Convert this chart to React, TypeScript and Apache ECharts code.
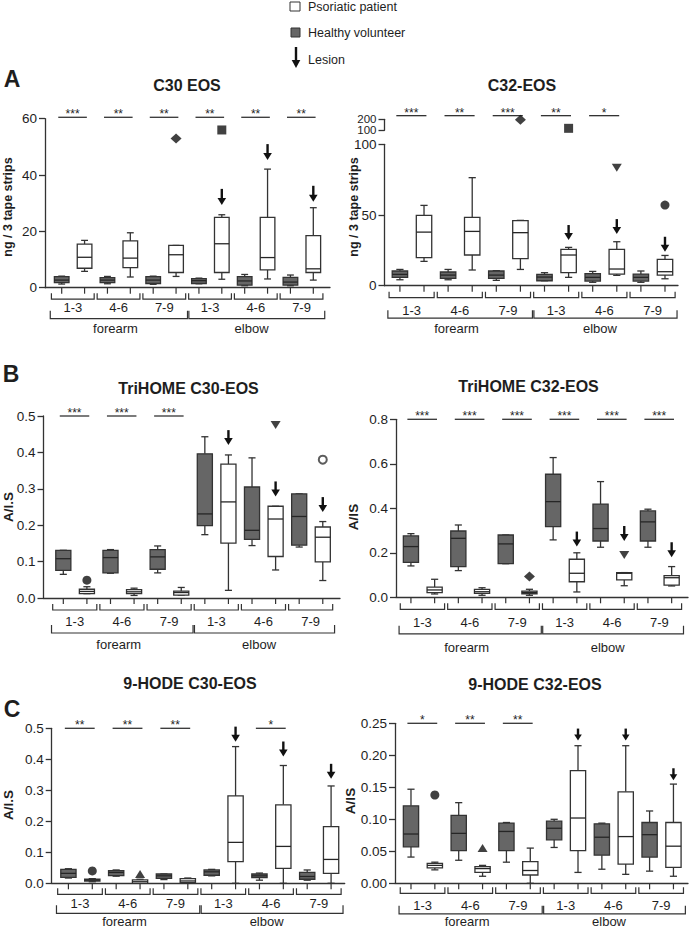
import React, { useEffect, useRef } from 'react';
import * as echarts from 'echarts';

// ---------- categories ----------
const sites = ['forearm', 'elbow'];
const depths = ['1-3', '4-6', '7-9'];
const legendItems = ['Psoriatic patient', 'Healthy volunteer', 'Lesion'];

// ---------- data: [min, Q1, median, Q3, max] for forearm 1-3,4-6,7-9, elbow 1-3,4-6,7-9 ----------
// Outliers / lesion arrows: [box index (even = healthy, odd = psoriatic), value]
const c30Healthy = [
  [1.3, 1.8, 2.7, 3.9, 4.1],
  [1.4, 1.8, 2.7, 3.6, 4.0],
  [1.2, 1.5, 2.7, 3.9, 4.1],
  [1.4, 1.5, 2.5, 3.2, 3.4],
  [0.7, 0.9, 2.4, 3.9, 4.7],
  [0.7, 0.9, 2.0, 3.7, 4.5],
];
const c30Psoriatic = [
  [5.8, 6.9, 10.8, 15.5, 16.8],
  [3.8, 7.1, 10.5, 16.6, 19.5],
  [4.0, 5.4, 11.7, 15.0, 15.0],
  [3.0, 5.4, 15.6, 25.0, 25.9],
  [3.1, 6.3, 10.7, 25.0, 42.1],
  [2.7, 5.4, 6.7, 18.5, 28.4],
];
const c30Outliers = [[5, 53.0], [7, 56.0]];
const c30OutlierShapes = ['diamond', 'rect'];
const c30Lesions = [[7, 29.4], [9, 45.3], [11, 30.5]];
const c30Stars = ['***', '**', '**', '**', '**', '**'];

const c32Healthy = [
  [4.2, 5.9, 8.0, 10.4, 11.5],
  [4.2, 5.2, 7.5, 9.7, 11.5],
  [3.8, 5.2, 7.5, 10.4, 10.6],
  [3.5, 3.5, 6.1, 8.0, 9.2],
  [2.4, 3.3, 5.9, 8.5, 10.1],
  [2.4, 3.3, 5.9, 8.2, 10.4],
];
const c32Psoriatic = [
  [17.2, 19.8, 37.9, 49.7, 56.8],
  [11.1, 21.7, 38.4, 48.3, 76.4],
  [11.5, 19.1, 37.5, 46.0, 46.2],
  [5.9, 9.2, 21.7, 25.7, 27.1],
  [7.3, 8.2, 11.8, 25.7, 31.1],
  [4.9, 7.5, 9.9, 18.6, 21.4],
];
const c32Outliers = [[5, 195], [7, 118], [9, 83.4], [11, 57.0]];
const c32OutlierShapes = ['diamond', 'rect', 'triangleDown', 'circle'];
const c32Lesions = [[7, 32.3], [9, 36.5], [11, 24.0]];
const c32Stars = ['***', '**', '***', '**', '*', ''];

const triC30Healthy = [
  [0.065, 0.076, 0.108, 0.131, 0.131],
  [0.068, 0.069, 0.111, 0.131, 0.133],
  [0.069, 0.079, 0.113, 0.133, 0.143],
  [0.174, 0.199, 0.231, 0.396, 0.443],
  [0.144, 0.161, 0.186, 0.305, 0.385],
  [0.140, 0.145, 0.224, 0.286, 0.286],
];
const triC30Psoriatic = [
  [0.012, 0.012, 0.018, 0.024, 0.031],
  [0.007, 0.012, 0.017, 0.023, 0.027],
  [0.008, 0.008, 0.015, 0.019, 0.029],
  [0.021, 0.151, 0.264, 0.368, 0.393],
  [0.077, 0.114, 0.217, 0.252, 0.252],
  [0.048, 0.099, 0.167, 0.195, 0.210],
];
const triC30Outliers = [[1, 0.049], [9, 0.475], [11, 0.38]];
const triC30OutlierShapes = ['circle', 'triangleDown', 'emptyCircle'];
const triC30Lesions = [[7, 0.42], [9, 0.279], [11, 0.236]];
const triC30Stars = ['***', '***', '***', '', '', ''];

const triC32Healthy = [
  [0.141, 0.157, 0.228, 0.276, 0.286],
  [0.120, 0.138, 0.265, 0.298, 0.325],
  [0.151, 0.151, 0.240, 0.280, 0.280],
  [0.258, 0.318, 0.430, 0.553, 0.628],
  [0.225, 0.253, 0.309, 0.419, 0.520],
  [0.225, 0.253, 0.339, 0.388, 0.396],
];
const triC32Psoriatic = [
  [0.015, 0.021, 0.033, 0.046, 0.081],
  [0.009, 0.018, 0.025, 0.036, 0.043],
  [0.009, 0.016, 0.022, 0.028, 0.036],
  [0.024, 0.070, 0.108, 0.171, 0.200],
  [0.052, 0.078, 0.108, 0.111, 0.111],
  [0.051, 0.055, 0.088, 0.097, 0.138],
];
const triC32Outliers = [[5, 0.093], [9, 0.19]];
const triC32OutlierShapes = ['diamond', 'triangleDown'];
const triC32Lesions = [[7, 0.228], [9, 0.253], [11, 0.18]];
const triC32Stars = ['***', '***', '***', '***', '***', '***'];

const hodeC30Healthy = [
  [0.017, 0.019, 0.032, 0.045, 0.047],
  [0.023, 0.025, 0.035, 0.041, 0.043],
  [0.012, 0.016, 0.024, 0.030, 0.030],
  [0.024, 0.026, 0.037, 0.043, 0.045],
  [0.010, 0.018, 0.024, 0.030, 0.033],
  [0.010, 0.013, 0.022, 0.035, 0.043],
];
const hodeC30Psoriatic = [
  [0.005, 0.0075, 0.010, 0.013, 0.015],
  [0.000, 0.000, 0.005, 0.011, 0.013],
  [0.000, 0.002, 0.0075, 0.015, 0.017],
  [0.000, 0.070, 0.132, 0.282, 0.441],
  [0.000, 0.048, 0.119, 0.253, 0.380],
  [0.000, 0.032, 0.077, 0.183, 0.314],
];
const hodeC30Outliers = [[1, 0.040], [3, 0.030]];
const hodeC30OutlierShapes = ['circle', 'triangle'];
const hodeC30Lesions = [[7, 0.457], [9, 0.409], [11, 0.337]];
const hodeC30Stars = ['**', '**', '**', '', '*', ''];

const hodeC32Healthy = [
  [0.041, 0.057, 0.077, 0.121, 0.147],
  [0.036, 0.051, 0.078, 0.106, 0.126],
  [0.033, 0.051, 0.081, 0.094, 0.095],
  [0.056, 0.068, 0.086, 0.097, 0.100],
  [0.022, 0.044, 0.072, 0.093, 0.094],
  [0.019, 0.041, 0.076, 0.095, 0.113],
];
const hodeC32Psoriatic = [
  [0.021, 0.024, 0.028, 0.031, 0.033],
  [0.011, 0.017, 0.023, 0.026, 0.028],
  [0.000, 0.013, 0.020, 0.034, 0.055],
  [0.017, 0.051, 0.102, 0.176, 0.215],
  [0.014, 0.030, 0.073, 0.143, 0.215],
  [0.011, 0.025, 0.058, 0.095, 0.155],
];
const hodeC32Outliers = [[1, 0.138], [3, 0.055]];
const hodeC32OutlierShapes = ['circle', 'triangle'];
const hodeC32Lesions = [[7, 0.223], [9, 0.223], [11, 0.161]];
const hodeC32Stars = ['*', '**', '**', '', '', ''];

// ---------- styles ----------
const FONT = "'Liberation Sans', Arial, Helvetica, sans-serif";
const INK = '#1e1e1e';
const LINE = '#333333';
const HV_FILL = '#666666';
const PP_FILL = '#ffffff';
const siteLabelAt = [2.35, 8.3];

const symbolFor: Record<string, any> = {
  diamond: { symbol: 'diamond', size: [11, 10] },
  rect: { symbol: 'rect', size: [9, 9] },
  circle: { symbol: 'circle', size: 9 },
  triangle: { symbol: 'triangle', size: [10, 8] },
  triangleDown: { symbol: 'path://M0,0L10,0L5,9Z', size: [10, 8] },
  emptyCircle: { symbol: 'emptyCircle', size: 8 },
};

type Panel = {
  letter?: string; letterX?: number; letterY?: number;
  title: string; titleX: number; titleY: number;
  yName: string; yNameX: number; yNameY: number;
  grid: { left: number; top: number; width: number; height: number };
  upper?: { top: number; height: number; min: number; max: number };
  xMin: number; xMax: number; yMax: number; interval: number; decimals: number;
  healthy: number[][]; psoriatic: number[][];
  outliers: number[][]; shapes: string[]; lesions: number[][]; stars: string[]; starLevel: number;
  offsets: number[]; arrowLen: number;
};

const panels: Panel[] = [
  {
    letter: 'A', letterX: 12, letterY: 79,
    title: 'C30 EOS', titleX: 187, titleY: 85.5,
    yName: 'ng / 3 tape strips', yNameX: 7.5, yNameY: 207,
    grid: { left: 45, top: 118.7, width: 285, height: 169 },
    xMin: -0.73, xMax: 11.73, yMax: 60, interval: 20, decimals: 0,
    healthy: c30Healthy, psoriatic: c30Psoriatic, outliers: c30Outliers, shapes: c30OutlierShapes,
    lesions: c30Lesions, stars: c30Stars, starLevel: 60.5,
    offsets: [11.5, 19.5, 31, 40.5], arrowLen: 16,
  },
  {
    title: 'C32-EOS', titleX: 522, titleY: 85.5,
    yName: 'ng / 3 tape strips', yNameX: 353.5, yNameY: 207,
    grid: { left: 384.5, top: 144.3, width: 293.5, height: 141.4 },
    upper: { top: 119.3, height: 11, min: 100, max: 200 },
    xMin: -0.64, xMax: 11.54, yMax: 100, interval: 50, decimals: 0,
    healthy: c32Healthy, psoriatic: c32Psoriatic, outliers: c32Outliers, shapes: c32OutlierShapes,
    lesions: c32Lesions, stars: c32Stars, starLevel: 233,
    offsets: [12, 24.5, 32.5, 42.5], arrowLen: 15,
  },
  {
    letter: 'B', letterX: 11, letterY: 373.5,
    title: 'TriHOME C30-EOS', titleX: 188.5, titleY: 388.5,
    yName: 'A/I.S', yNameX: 8.5, yNameY: 507,
    grid: { left: 43.5, top: 416, width: 296.5, height: 182 },
    xMin: -0.84, xMax: 11.73, yMax: 0.5, interval: 0.1, decimals: 1,
    healthy: triC30Healthy, psoriatic: triC30Psoriatic, outliers: triC30Outliers, shapes: triC30OutlierShapes,
    lesions: triC30Lesions, stars: triC30Stars, starLevel: 0.5,
    offsets: [12, 23, 35, 46], arrowLen: 15,
  },
  {
    title: 'TriHOME C32-EOS', titleX: 528.5, titleY: 386.5,
    yName: 'A/IS', yNameX: 353, yNameY: 517,
    grid: { left: 396, top: 419.3, width: 292, height: 178 },
    xMin: -0.63, xMax: 11.69, yMax: 0.8, interval: 0.2, decimals: 1,
    healthy: triC32Healthy, psoriatic: triC32Psoriatic, outliers: triC32Outliers, shapes: triC32OutlierShapes,
    lesions: triC32Lesions, stars: triC32Stars, starLevel: 0.8,
    offsets: [12, 25.5, 36.5, 50], arrowLen: 15,
  },
  {
    letter: 'C', letterX: 12, letterY: 709,
    title: '9-HODE C30-EOS', titleX: 190, titleY: 683.5,
    yName: 'A/I.S', yNameX: 8.5, yNameY: 805,
    grid: { left: 51.7, top: 728.3, width: 293, height: 155 },
    xMin: -0.7, xMax: 11.57, yMax: 0.5, interval: 0.1, decimals: 1,
    healthy: hodeC30Healthy, psoriatic: hodeC30Psoriatic, outliers: hodeC30Outliers, shapes: hodeC30OutlierShapes,
    lesions: hodeC30Lesions, stars: hodeC30Stars, starLevel: 0.5,
    offsets: [11, 20, 30, 38.5], arrowLen: 15,
  },
  {
    title: '9-HODE C32-EOS', titleX: 535, titleY: 684.5,
    yName: 'A/IS', yNameX: 350, yNameY: 801,
    grid: { left: 395, top: 723.3, width: 293, height: 160 },
    xMin: -0.67, xMax: 11.61, yMax: 0.25, interval: 0.05, decimals: 2,
    healthy: hodeC32Healthy, psoriatic: hodeC32Psoriatic, outliers: hodeC32Outliers, shapes: hodeC32OutlierShapes,
    lesions: hodeC32Lesions, stars: hodeC32Stars, starLevel: 0.25,
    offsets: [10, 22.5, 30.5, 38.5], arrowLen: 12,
  },
];

function textStyle(text: string, size: number, weight: string | number = 'normal', align = 'center', vAlign = 'middle') {
  return {
    text, fill: INK, fontSize: size, fontFamily: FONT, fontWeight: weight,
    align, verticalAlign: vAlign, textAlign: align, textVerticalAlign: vAlign,
  };
}

const renderBox = (_params: any, api: any) => {
  const x = api.value(0);
  const vals = [1, 2, 3, 4, 5].map((d) => api.value(d));
  const healthy = api.value(6) === 0;
  const bw = api.size([1, 0])[0];
  const half = bw * 0.32;
  const cap = bw * 0.15;
  const pts = vals.map((v) => api.coord([x, v]));
  const cx = pts[0][0];
  const [yMin, yQ1, yMed, yQ3, yMax] = pts.map((q: number[]) => q[1]);
  const st = { stroke: LINE, lineWidth: 1.3 };
  return {
    type: 'group',
    children: [
      { type: 'line', shape: { x1: cx, y1: yQ3, x2: cx, y2: yMax }, style: st },
      { type: 'line', shape: { x1: cx - cap, y1: yMax, x2: cx + cap, y2: yMax }, style: st },
      { type: 'line', shape: { x1: cx, y1: yQ1, x2: cx, y2: yMin }, style: st },
      { type: 'line', shape: { x1: cx - cap, y1: yMin, x2: cx + cap, y2: yMin }, style: st },
      {
        type: 'rect',
        shape: { x: cx - half, y: yQ3, width: 2 * half, height: Math.max(yQ1 - yQ3, 1) },
        style: { fill: healthy ? HV_FILL : PP_FILL, stroke: LINE, lineWidth: 1.3 },
      },
      { type: 'line', shape: { x1: cx - half, y1: yMed, x2: cx + half, y2: yMed }, style: { stroke: '#262626', lineWidth: 1.3 } },
    ],
  };
};

const makeArrowRender = (len: number) => (_params: any, api: any) => {
  const p = api.coord([api.value(0), api.value(1)]);
  const hh = len >= 14 ? 7 : 6;
  const hw = len >= 14 ? 4.3 : 3.8;
  return {
    type: 'group',
    children: [
      { type: 'rect', shape: { x: p[0] - 1.2, y: p[1] - len, width: 2.4, height: len - hh + 1 }, style: { fill: '#111' } },
      { type: 'polygon', shape: { points: [[p[0] - hw, p[1] - hh], [p[0] + hw, p[1] - hh], [p[0], p[1]]] }, style: { fill: '#111' } },
    ],
  };
};

const makeStarRender = (stars: string[]) => (_params: any, api: any) => {
  const k = api.value(0);
  const lvl = api.value(1);
  const a = api.coord([2 * k - 0.15, lvl]);
  const b = api.coord([2 * k + 1.1, lvl]);
  return {
    type: 'group',
    children: [
      { type: 'line', shape: { x1: a[0], y1: a[1], x2: b[0], y2: b[1] }, style: { stroke: LINE, lineWidth: 1.3 } },
      { type: 'text', x: (a[0] + b[0]) / 2, y: a[1] + 3, style: textStyle(stars[k], 12, 'normal', 'center', 'bottom') },
    ],
  };
};

const makeBracketRender = (off: number[], yMin: number) => (_params: any, api: any) => {
  const type = api.value(0);
  const idx = api.value(1);
  const base = api.coord([0, yMin])[1];
  const ls = { stroke: LINE, lineWidth: 1.2, fill: 'none' };
  if (type === 2) {
    const c = api.coord([idx, yMin]);
    return { type: 'line', shape: { x1: c[0], y1: base, x2: c[0], y2: base + 6 }, style: ls };
  }
  let x1: number, x2: number, yLine: number, endH: number, label: string, labelX: number, labelY: number;
  if (type === 0) {
    x1 = 2 * idx - 0.45; x2 = 2 * idx + 1.42; yLine = base + off[0]; endH = 6;
    label = depths[idx % 3]; labelX = (x1 + x2) / 2; labelY = base + off[1];
  } else {
    x1 = idx === 0 ? -0.5 : 5.56; x2 = idx === 0 ? 5.5 : 11.5; yLine = base + off[2]; endH = 8;
    label = sites[idx]; labelX = siteLabelAt[idx]; labelY = base + off[3];
  }
  const a = api.coord([x1, yMin])[0];
  const b = api.coord([x2, yMin])[0];
  const lx = api.coord([labelX, yMin])[0];
  return {
    type: 'group',
    children: [
      { type: 'polyline', shape: { points: [[a, yLine - endH], [a, yLine], [b, yLine], [b, yLine - endH]] }, style: ls },
      { type: 'text', x: lx, y: labelY, style: textStyle(label, 13) },
    ],
  };
};

function yAxisStyle(decimals: number, fontSize = 13.5, only?: number, showLine = true) {
  return {
    axisLine: { show: showLine, onZero: false, lineStyle: { color: LINE, width: 1.3 } },
    axisTick: { show: showLine, length: 6, lineStyle: { color: LINE, width: 1.3 } },
    axisLabel: {
      show: true, color: INK, fontSize, fontFamily: FONT, margin: 8,
      showMinLabel: true, showMaxLabel: true, hideOverlap: false,
      formatter: (v: number) => (only === undefined || Math.abs(v - only) < 1e-9 ? v.toFixed(decimals) : ''),
    },
    splitLine: { show: false },
  };
}

function buildOption() {
  const grid: any[] = [];
  const xAxis: any[] = [];
  const yAxis: any[] = [];
  const series: any[] = [];
  const graphic: any[] = [];

  panels.forEach((p) => {
    const gi = grid.length;
    grid.push({ ...p.grid });
    xAxis.push({
      type: 'value', gridIndex: gi, min: p.xMin, max: p.xMax,
      axisLine: { show: true, onZero: false, lineStyle: { color: LINE, width: 1.3 } },
      axisTick: { show: false }, axisLabel: { show: false }, splitLine: { show: false },
    });
    const yi = yAxis.length;
    yAxis.push({ type: 'value', gridIndex: gi, min: 0, max: p.yMax, interval: p.interval, ...yAxisStyle(p.decimals) });

    let ui = gi;
    let uyi = yi;
    if (p.upper) {
      ui = grid.length;
      grid.push({ left: p.grid.left, top: p.upper.top, width: p.grid.width, height: p.upper.height });
      xAxis.push({ type: 'value', gridIndex: ui, min: p.xMin, max: p.xMax, show: false });
      uyi = yAxis.length;
      // break segment axis: one axis carries the line, ticks and the lower label, a twin carries the upper label
      yAxis.push({
        type: 'value', gridIndex: ui, position: 'left', offset: 0, min: p.upper.min, max: p.upper.max,
        interval: p.upper.max - p.upper.min, ...yAxisStyle(0, 11.5, p.upper.min),
      });
      yAxis.push({
        type: 'value', gridIndex: ui, position: 'left', offset: 0, min: p.upper.min, max: p.upper.max,
        interval: p.upper.max - p.upper.min, ...yAxisStyle(0, 11.5, p.upper.max, false),
      });
    }

    // boxes
    const boxData: number[][] = [];
    p.healthy.forEach((h, k) => {
      boxData.push([2 * k, ...h, 0]);
      boxData.push([2 * k + 1, ...p.psoriatic[k], 1]);
    });
    series.push({
      type: 'custom', name: p.title, xAxisIndex: gi, yAxisIndex: yi,
      data: boxData, renderItem: renderBox, clip: false, silent: true,
    });

    // x ticks and brackets
    const bracketData: number[][] = [];
    for (let i = 0; i < 6; i++) bracketData.push([0, i]);
    bracketData.push([1, 0], [1, 1]);
    for (let j = 0; j < 12; j++) bracketData.push([2, j]);
    series.push({
      type: 'custom', xAxisIndex: gi, yAxisIndex: yi, data: bracketData,
      renderItem: makeBracketRender(p.offsets, 0), clip: false, silent: true,
    });

    // outliers
    const lower: any[] = [];
    const upperPts: any[] = [];
    p.outliers.forEach((o, i) => {
      const s = symbolFor[p.shapes[i]];
      const item = {
        value: o, symbol: s.symbol, symbolSize: s.size,
        itemStyle: p.shapes[i] === 'emptyCircle'
          ? { color: '#333', borderColor: '#333', borderWidth: 1.3 }
          : { color: '#111' },
      };
      if (p.upper && o[1] > p.upper.min) upperPts.push(item); else lower.push(item);
    });
    series.push({ type: 'scatter', xAxisIndex: gi, yAxisIndex: yi, data: lower, clip: false, silent: true });
    if (upperPts.length) {
      series.push({ type: 'scatter', xAxisIndex: ui, yAxisIndex: uyi, data: upperPts, clip: false, silent: true });
    }

    // lesion arrows
    series.push({
      type: 'custom', xAxisIndex: gi, yAxisIndex: yi, data: p.lesions,
      renderItem: makeArrowRender(p.arrowLen), clip: false, silent: true,
    });

    // significance
    const sigData: number[][] = [];
    p.stars.forEach((s, k) => { if (s) sigData.push([k, p.starLevel]); });
    series.push({
      type: 'custom', xAxisIndex: ui, yAxisIndex: uyi, data: sigData,
      renderItem: makeStarRender(p.stars), clip: false, silent: true,
    });

    // texts
    graphic.push({ type: 'text', x: p.titleX, y: p.titleY, style: textStyle(p.title, 16, 'bold') });
    graphic.push({ type: 'text', x: p.yNameX, y: p.yNameY, rotation: Math.PI / 2, style: textStyle(p.yName, p.yName.length > 6 ? 12.5 : 13.5, 'bold') });
    if (p.letter) {
      graphic.push({ type: 'text', x: p.letterX, y: p.letterY, style: textStyle(p.letter, 23, 'bold') });
    }
  });

  // legend
  graphic.push(
    { type: 'rect', shape: { x: 290, y: 2, width: 10, height: 9 }, style: { fill: PP_FILL, stroke: '#333', lineWidth: 1 } },
    { type: 'rect', shape: { x: 291, y: 28, width: 9, height: 9 }, style: { fill: HV_FILL, stroke: '#333', lineWidth: 1 } },
    { type: 'rect', shape: { x: 294.8, y: 47, width: 2.4, height: 14 }, style: { fill: '#111' } },
    { type: 'polygon', shape: { points: [[291.7, 60], [300.3, 60], [296, 68]] }, style: { fill: '#111' } },
    { type: 'text', x: 308, y: 6.5, style: textStyle(legendItems[0], 12.5, 'normal', 'left') },
    { type: 'text', x: 308, y: 33, style: textStyle(legendItems[1], 12.5, 'normal', 'left') },
    { type: 'text', x: 308, y: 59.5, style: textStyle(legendItems[2], 12.5, 'normal', 'left') },
  );

  return {
    animation: false,
    backgroundColor: '#ffffff',
    tooltip: { show: false },
    grid, xAxis, yAxis, series, graphic,
  };
}

export default function App() {
  const ref = useRef<HTMLDivElement>(null);
  useEffect(() => {
    if (!ref.current) return;
    const chart = echarts.init(ref.current, undefined, { renderer: 'svg' });
    chart.setOption(buildOption() as any);
    return () => chart.dispose();
  }, []);
  return (
    <div
      ref={ref}
      style={{ position: 'absolute', left: 0, top: 0, width: 690, height: 929, background: '#fff' }}
    />
  );
}
